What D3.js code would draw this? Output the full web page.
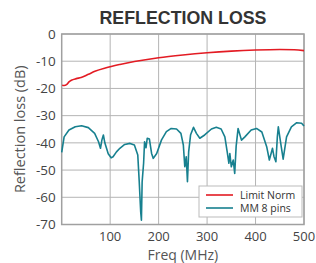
<!DOCTYPE html>
<html>
<head>
<meta charset="utf-8">
<script src="https://cdn.jsdelivr.net/npm/d3@7"></script>
<style>
  body { margin: 0; background: #fff; }
  svg { display: block; font-family: "Open Sans", "Liberation Sans", sans-serif; }
</style>
</head>
<body>
<svg id="chart"></svg>
<script>
// limit curve (MHz, dB)
const limitFreq = [1, 5, 10, 15, 20, 30, 40, 55, 70, 90, 120, 150, 200, 250, 300, 350, 400, 450, 480, 500];
const limitDb   = [-18.8, -18.9, -18.6, -17.6, -17, -16.4, -16, -14.8, -13.6, -12.5, -11.2, -10.1, -8.7, -7.7, -6.9, -6.3, -5.9, -5.7, -5.8, -6.1];

// measured curve
const mmFreq = [0, 5, 15, 28, 41, 55, 68, 76, 80, 83, 86, 89, 96, 102, 106, 113, 120, 130, 141, 150, 157, 160, 163, 164.5,
  166, 169, 171, 174, 176.5, 181, 185.5, 189, 196, 206, 216, 226, 237, 246, 251, 254, 257, 259.5, 262, 266, 272, 278,
  285, 295, 309, 319, 329, 336.7, 342, 345, 347, 350, 354, 357, 360, 364, 371, 378, 391, 402, 413, 423, 428.5, 435,
  438, 442, 445, 447, 452, 457, 464, 474, 485, 495, 500];
const mmDb = [-43.5, -37.8, -35.3, -34.1, -33.7, -34.4, -36.5, -39.6, -42, -38.9, -37.1, -40, -44, -45.5, -45.1, -43.3, -42, -40.6, -40.2, -40.8, -44.5, -54.3, -65.3, -68.4,
  -54.3, -47.5, -39.6, -41.8, -38.3, -38.6, -43.9, -45.7, -43.9, -38.9, -35.9, -34.7, -34.9, -36.5, -40.8, -48.8, -45.1, -54.3, -43.3, -37, -34.3, -36.5,
  -38.3, -37.1, -34.9, -34.3, -34.9, -37.8, -43.9, -47.5, -43.9, -48.8, -46.3, -51.2, -41.2, -34.7, -39, -37.8, -35.3, -34.7, -36, -41.4, -46.3, -42,
  -45, -46.9, -37.8, -34.1, -40.2, -46, -37.8, -34.1, -32.6, -32.8, -33.8];

const xTicks = [100, 200, 300, 400, 500];
const yTicks = [0, -10, -20, -30, -40, -50, -60, -70];
const seriesNames = ["Limit Norm", "MM 8 pins"];
const seriesColors = ["#e31b23", "#17808f"];

const width = 316, height = 263;
const margin = { top: 34, right: 12, bottom: 38.5, left: 61.7 };
const innerW = width - margin.left - margin.right;
const innerH = height - margin.top - margin.bottom;

const svg = d3.select("#chart").attr("width", width).attr("height", height);

const x = d3.scaleLinear().domain([0, 500]).range([margin.left, margin.left + innerW]);
const y = d3.scaleLinear().domain([-70, 0]).range([margin.top + innerH, margin.top]);

// grid
svg.append("g")
  .selectAll("line.v")
  .data(xTicks)
  .join("line")
  .attr("x1", d => x(d)).attr("x2", d => x(d))
  .attr("y1", y(0)).attr("y2", y(-70))
  .attr("stroke", "#b4b4b4").attr("stroke-width", 1);

svg.append("g")
  .selectAll("line.h")
  .data(yTicks)
  .join("line")
  .attr("x1", x(0)).attr("x2", x(500))
  .attr("y1", d => y(d)).attr("y2", d => y(d))
  .attr("stroke", "#b4b4b4").attr("stroke-width", 1);

// frame
svg.append("rect")
  .attr("x", x(0)).attr("y", y(0))
  .attr("width", x(500) - x(0)).attr("height", y(-70) - y(0))
  .attr("fill", "none").attr("stroke", "#a0a0a0").attr("stroke-width", 1.5);

// tick labels
svg.append("g")
  .selectAll("text")
  .data(xTicks)
  .join("text")
  .attr("x", d => x(d)).attr("y", y(-70) + 16)
  .attr("text-anchor", "middle")
  .attr("font-size", 13).attr("fill", "#444")
  .text(d => d);

svg.append("g")
  .selectAll("text")
  .data(yTicks)
  .join("text")
  .attr("x", x(0) - 6).attr("y", d => y(d) + 4.8)
  .attr("text-anchor", "end")
  .attr("font-size", 13.5).attr("fill", "#444")
  .text(d => d);

// lines
const line = d3.line().x(d => x(d[0])).y(d => y(d[1]));

svg.append("path")
  .datum(mmFreq.map((f, i) => [f, mmDb[i]]))
  .attr("d", line)
  .attr("fill", "none").attr("stroke", seriesColors[1]).attr("stroke-width", 1.6)
  .attr("stroke-linejoin", "round");

svg.append("path")
  .datum(limitFreq.map((f, i) => [f, limitDb[i]]))
  .attr("d", line.curve(d3.curveMonotoneX))
  .attr("fill", "none").attr("stroke", seriesColors[0]).attr("stroke-width", 1.6);

// title and axis labels
svg.append("text")
  .attr("x", 183).attr("y", 24)
  .attr("text-anchor", "middle")
  .attr("font-family", "'Liberation Sans', Arial, sans-serif")
  .attr("font-size", 17.8).attr("font-weight", "bold").attr("fill", "#333")
  .text("REFLECTION LOSS");

svg.append("text")
  .attr("x", x(250)).attr("y", 260)
  .attr("text-anchor", "middle")
  .attr("font-size", 14).attr("fill", "#555")
  .text("Freq (MHz)");

svg.append("text")
  .attr("transform", `translate(25,${y(-35)}) rotate(-90)`)
  .attr("text-anchor", "middle")
  .attr("font-size", 14.5).attr("fill", "#555")
  .text("Reflection loss (dB)");

// legend
const lg = svg.append("g").attr("transform", "translate(199,186)");
lg.append("rect")
  .attr("width", 103).attr("height", 31)
  .attr("fill", "#fff").attr("stroke", "#bbb").attr("stroke-width", 1);

lg.selectAll("g.item")
  .data(seriesNames)
  .join("g")
  .attr("transform", (d, i) => `translate(0,${9 + i * 13})`)
  .each(function (d, i) {
    const g = d3.select(this);
    g.append("line")
      .attr("x1", 7).attr("x2", 34).attr("y1", 0).attr("y2", 0)
      .attr("stroke", seriesColors[i]).attr("stroke-width", 1.6);
    g.append("text")
      .attr("x", 41).attr("y", 4)
      .attr("font-size", 10.5).attr("fill", "#333")
      .text(d);
  });
</script>
</body>
</html>
